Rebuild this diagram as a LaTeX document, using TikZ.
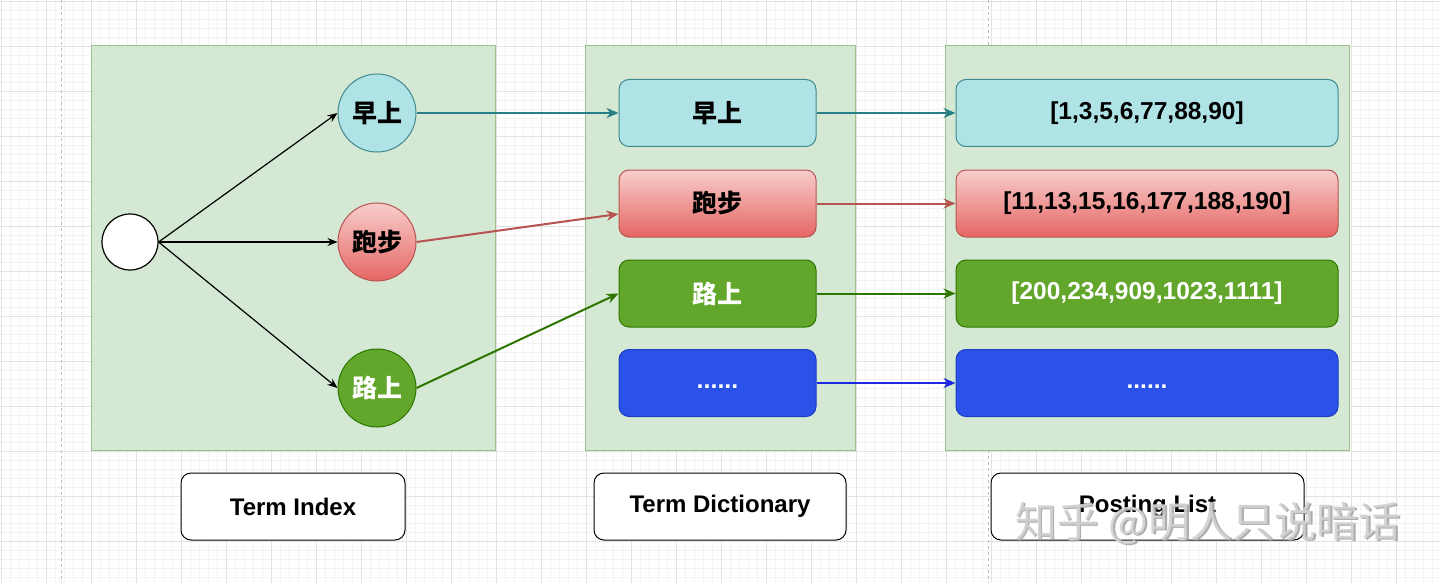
\documentclass[tikz,border=0pt]{standalone}
\usepackage{fontspec}
\setmainfont{Liberation Sans}
\newfontfamily\cjk{Noto Sans CJK SC}
\usetikzlibrary{arrows.meta,calc}
\definecolor{panelfill}{HTML}{D5E8D4}
\definecolor{panelstroke}{HTML}{9CC08B}
\definecolor{tealfill}{HTML}{B0E3E6}
\definecolor{tealstroke}{HTML}{3E8A90}
\definecolor{tealarrow}{HTML}{287D86}
\definecolor{redtop}{HTML}{F8CECC}
\definecolor{redbot}{HTML}{E56663}
\definecolor{redstroke}{HTML}{B85450}
\definecolor{greenfill}{HTML}{62A72C}
\definecolor{greenstroke}{HTML}{2D7600}
\definecolor{bluefill}{HTML}{2A52E8}
\definecolor{bluestroke}{HTML}{1B3FC0}
\definecolor{bluearrow}{HTML}{1E28E0}
\definecolor{gridminor}{HTML}{F3F3F3}
\definecolor{gridmajor}{HTML}{E2E2E2}
\tikzset{
  panel/.style={draw=panelstroke, fill=panelfill, line width=1pt},
  termcirc/.style={circle, minimum size=78pt, inner sep=0pt, line width=1pt, font=\cjk\bfseries\fontsize{25}{28}\selectfont},
  dictbox/.style={rounded corners=10pt, minimum width=197pt, minimum height=67pt, inner sep=0pt, line width=1pt, font=\cjk\bfseries\fontsize{25}{28}\selectfont},
  postbox/.style={rounded corners=10pt, minimum width=382pt, minimum height=67pt, inner sep=0pt, line width=1pt, font=\bfseries\fontsize{24.5}{28}\selectfont},
  labelbox/.style={draw=black, fill=white, rounded corners=10pt, minimum height=67pt, inner sep=0pt, line width=1pt, font=\bfseries\fontsize{24}{28}\selectfont},
  tealst/.style={fill=tealfill, draw=tealstroke},
  redst/.style={top color=redtop, bottom color=redbot, draw=redstroke},
  greenst/.style={fill=greenfill, draw=greenstroke, text=white},
  bluest/.style={fill=bluefill, draw=bluestroke, text=white},
  blackarrow/.style={draw=black, line width=1.2pt, -{Stealth[length=10pt,width=8pt]}},
  colarrow/.style={line width=2pt, -{Stealth[length=12pt,width=10pt]}},
  wmark/.style={font=\cjk\fontsize{42}{45}\selectfont, anchor=center},
}
\begin{document}
\begin{tikzpicture}[x=1pt,y=-1pt]
\useasboundingbox (0,0) rectangle (1440,583);
\fill[white] (0,0) rectangle (1440,583);
% grid
\foreach \i in {0,...,160} {
  \draw[gridminor, line width=0.6pt] ({1.7+9*\i},0) -- ({1.7+9*\i},583);
}
\foreach \i in {0,...,64} {
  \draw[gridminor, line width=0.6pt] (0,{1.7+9*\i}) -- (1440,{1.7+9*\i});
}
\foreach \i in {0,...,32} {
  \draw[gridmajor, line width=0.9pt] ({1.7+45*\i},0) -- ({1.7+45*\i},583);
}
\foreach \i in {0,...,12} {
  \draw[gridmajor, line width=0.9pt] (0,{1.7+45*\i}) -- (1440,{1.7+45*\i});
}
% dashed page lines
\draw[gray!50, dashed, line width=0.8pt] (61.7,0) -- (61.7,583);
\draw[gray!50, dashed, line width=0.8pt] (988,0) -- (988,583);
% panels
\node[panel, minimum width=404pt, minimum height=404pt, inner sep=0pt] (pa) at (293,248) {};
\node[panel, minimum width=270pt, minimum height=404pt, inner sep=0pt] (pb) at (720,248) {};
\node[panel, minimum width=404pt, minimum height=404pt, inner sep=0pt] (pc) at (1147,248) {};
% term index
\node[circle, draw=black, fill=white, minimum size=56pt, inner sep=0pt, line width=1.2pt] (root) at (130,242) {};
\node[termcirc, tealst] (c1) at (377,113) {早上};
\node[termcirc, redst] (c2) at (377,242) {跑步};
\node[termcirc, greenst] (c3) at (377,388) {路上};
% dictionary
\node[dictbox, tealst] (d1) at (717.5,113) {早上};
\node[dictbox, redst] (d2) at (717.5,203.5) {跑步};
\node[dictbox, greenst] (d3) at (717.5,293.5) {路上};
\node[dictbox, bluest, font=\bfseries\fontsize{25}{28}\selectfont] (d4) at (717.5,383) {\raisebox{-5pt}[0pt][0pt]{......}};
% posting
\node[postbox, tealst] (p1) at (1147,113) {[1,3,5,6,77,88,90]};
\node[postbox, redst] (p2) at (1147,203.5) {[11,13,15,16,177,188,190]};
\node[postbox, greenst] (p3) at (1147,293.5) {[200,234,909,1023,1111]};
\node[postbox, bluest] (p4) at (1147,383) {\raisebox{-5pt}[0pt][0pt]{......}};
% labels
\node[labelbox, minimum width=224pt] (ti) at (293,506.5) {Term Index};
\node[labelbox, minimum width=252pt] (td) at (720,506.5) {Term Dictionary};
\node[labelbox, minimum width=313pt] (pl) at (1147.5,506.5) {Posting List};
% root edges
\draw[blackarrow] (root.east) -- (c1.west);
\draw[blackarrow] (root.east) -- (c2.west);
\draw[blackarrow] (root.east) -- (c3.west);
% circle to dictionary
\coordinate (d2in) at ($(d2.west)+(0,10.5)$);
\draw[colarrow, tealarrow] (c1.east) -- (d1.west);
\draw[colarrow, redstroke] (c2.east) -- (d2in);
\draw[colarrow, greenstroke] (c3.east) -- (d3.west);
% dictionary to posting
\draw[colarrow, tealarrow] (d1.east) -- (p1.west);
\draw[colarrow, redstroke] (d2.east) -- (p2.west);
\draw[colarrow, greenstroke] (d3.east) -- (p3.west);
\draw[colarrow, bluearrow] (d4.east) -- (p4.west);
% watermark
\node[wmark, text=gray!75, opacity=0.85] (wm0) at (1209.5,524.5) {知乎 @明人只说暗话};
\node[wmark, text=gray!35, opacity=0.9] (wm) at (1208,523) {知乎 @明人只说暗话};
\end{tikzpicture}
\end{document}
